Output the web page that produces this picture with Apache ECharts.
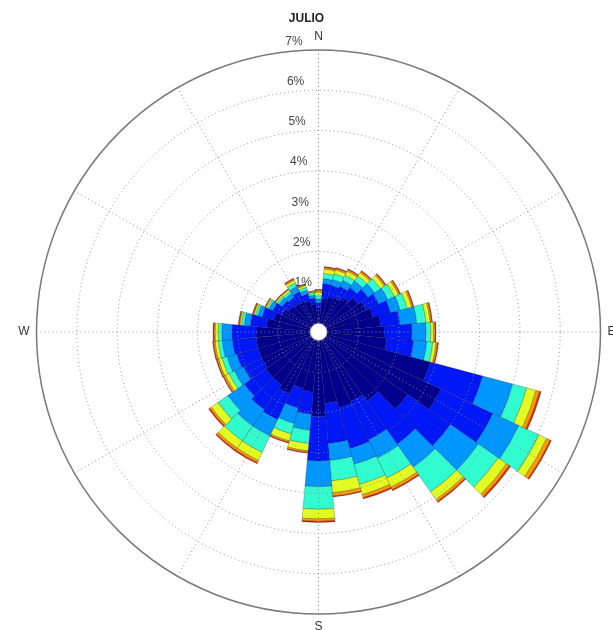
<!DOCTYPE html>
<html>
<head>
<meta charset="utf-8">
<script src="https://cdn.jsdelivr.net/npm/echarts@6/dist/echarts.min.js"></script>
<style>
html,body{margin:0;padding:0;background:#fff;}
#chart{width:613px;height:630px;}
</style>
</head>
<body>
<div id="chart"></div>
<script>
// Wind direction sectors (degrees, clockwise from north)
const directions = ['0','10','20','30','40','50','60','70','80','90','100','110','120','130','140','150','160','170',
                    '180','190','200','210','220','230','240','250','260','270','280','290','300','310','320','330','340','350'];
// Frequency (%) per speed class, per direction
const class1 = [0.60,0.84,0.90,0.95,1.05,1.20,1.30,1.40,1.55,1.63,1.70,2.87,3.35,2.70,2.10,1.90,1.95,1.78,
                2.10,1.50,1.45,1.70,1.60,1.60,1.55,1.55,1.55,1.53,1.30,1.15,1.00,0.90,0.85,0.85,0.80,0.70];
const class2 = [0.12,0.37,0.30,0.30,0.30,0.30,0.35,0.45,0.48,0.69,0.67,1.35,1.43,1.30,1.30,1.05,1.05,1.00,
                1.10,0.55,0.50,0.70,0.75,0.65,0.50,0.55,0.60,0.62,0.40,0.30,0.25,0.20,0.20,0.25,0.18,0.15];
const class3 = [0.10,0.12,0.15,0.17,0.20,0.20,0.25,0.25,0.42,0.35,0.33,0.77,0.71,0.85,0.70,0.50,0.40,0.42,
                0.64,0.40,0.40,0.45,0.50,0.50,0.25,0.25,0.25,0.25,0.15,0.11,0.10,0.10,0.12,0.15,0.10,0.07];
const class4 = [0.08,0.13,0.15,0.14,0.15,0.18,0.18,0.18,0.23,0.12,0.15,0.36,0.55,0.60,0.75,0.55,0.52,0.51,
                0.56,0.33,0.27,0.45,0.45,0.30,0.15,0.13,0.10,0.09,0.07,0.06,0.05,0.05,0.06,0.10,0.07,0.05];
const class5 = [0.09,0.11,0.10,0.11,0.10,0.11,0.11,0.11,0.10,0.07,0.08,0.24,0.21,0.25,0.23,0.25,0.26,0.30,
                0.24,0.18,0.18,0.22,0.22,0.20,0.10,0.09,0.08,0.08,0.04,0.04,0.04,0.04,0.05,0.07,0.05,0.03];
const class6 = [0.05,0.04,0.04,0.04,0.04,0.04,0.04,0.04,0.04,0.04,0.04,0.09,0.10,0.08,0.06,0.07,0.08,0.08,
                0.06,0.04,0.04,0.06,0.06,0.05,0.05,0.04,0.04,0.03,0.02,0.02,0.02,0.02,0.02,0.03,0.03,0.02];
const class7 = [0.02,0.02,0.02,0.02,0.02,0.02,0.02,0.02,0.02,0.02,0.02,0.04,0.03,0.04,0.03,0.03,0.03,0.02,
                0.03,0.02,0.02,0.03,0.03,0.03,0.02,0.02,0.02,0.02,0.02,0.02,0.01,0.01,0.01,0.02,0.01,0.01];
const classNames = ['c1','c2','c3','c4','c5','c6','c7'];
const classColors = ['#00008c','#0018f5','#0096ff','#30fcd0','#e2fb20','#ff9a00','#e52a00'];
const radiusTicks = [0,1,2,3,4,5,6,7];
const compass = {0:'N',90:'E',180:'S',270:'W'};
const calm = [[0,'0']];

const classes = [class1,class2,class3,class4,class5,class6,class7];
const center = [318.5, 332];
const R = 282;
const dotted = {color:'#8a8a8a', width:1, type:[1,3]};
const rMin = radiusTicks[0], rMax = radiusTicks[radiusTicks.length-1];

const series = classes.map((d,i)=>({
  type:'bar', name:classNames[i], coordinateSystem:'polar', polarIndex:0,
  stack:'speed', data:d, barCategoryGap:'0%', z:2,
  itemStyle:{color:classColors[i], borderColor:'rgba(0,0,40,0.45)', borderWidth:0.5},
  emphasis:{disabled:true}, animation:false
}));
series.push({
  type:'scatter', coordinateSystem:'polar', polarIndex:0, data:calm, z:20,
  symbol:'circle', symbolSize:17,
  itemStyle:{color:{type:'radial',x:0.6,y:0.45,r:0.6,colorStops:[{offset:0,color:'#ffffff'},{offset:0.75,color:'#ffffff'},{offset:1,color:'#d0d0d0'}]},
             borderColor:'#b0b0b0', borderWidth:0.5, opacity:1},
  animation:false, silent:true
});

const option = {
  animation:false,
  title:{text:'JULIO', left:'center', top:8,
         textStyle:{fontFamily:'Liberation Sans', fontSize:12, fontWeight:'bold', color:'#222'}},
  polar:[{center:center, radius:R},{center:center, radius:R},{center:center, radius:R}],
  angleAxis:[
    {polarIndex:0, type:'category', data:directions, startAngle:95, clockwise:true, show:false},
    {polarIndex:1, type:'value', min:0, max:360, interval:30, startAngle:90, clockwise:true, z:5,
     axisLine:{show:true, lineStyle:{color:'#7a7a7a', width:1.5}},
     axisTick:{show:false},
     splitLine:{show:true, lineStyle:dotted},
     axisLabel:{margin:7, color:'#333', fontFamily:'Liberation Sans', fontSize:12,
                formatter:v=>compass[v]||''}},
    {polarIndex:2, type:'value', min:0, max:360, startAngle:92.2, show:false}
  ],
  radiusAxis:[
    {polarIndex:0, min:rMin, max:rMax, show:false},
    {polarIndex:1, type:'value', min:rMin, max:rMax, interval:1, z:5,
     axisLine:{show:false}, axisTick:{show:false},
     splitLine:{show:true, lineStyle:dotted},
     axisLabel:{show:false}},
    {polarIndex:2, type:'value', min:rMin, max:rMax, interval:1, z:6,
     axisLine:{show:false}, axisTick:{show:false}, splitLine:{show:false},
     axisLabel:{showMinLabel:false, formatter:'{value}%', color:'#444', fontFamily:'Liberation Sans',
                fontSize:12, margin:5, align:'right', verticalAlign:'bottom', padding:[0,0,3,0]}}
  ],
  series:series
};
const chart = echarts.init(document.getElementById('chart'), null, {renderer:'canvas'});
chart.setOption(option);
</script>
</body>
</html>
